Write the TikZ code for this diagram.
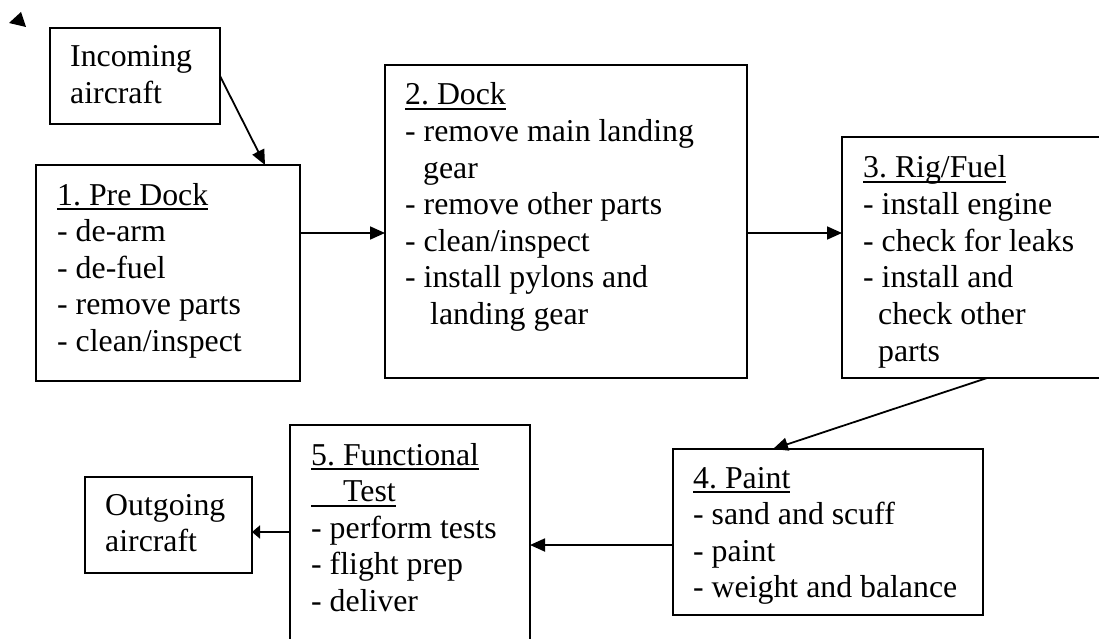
\documentclass[tikz,border=0pt]{standalone}
\usepackage{fontspec}
\setmainfont{Liberation Serif}
\usetikzlibrary{arrows.meta,calc}
\newsavebox\ulinbox
\newcommand\ulin[1]{\leavevmode\sbox\ulinbox{#1}\rlap{\rule[-5.2pt]{\wd\ulinbox}{1.8pt}}\usebox\ulinbox}
\begin{document}
\begin{tikzpicture}[x=1pt,y=-1pt,
  box/.style={draw, line width=1.8pt, rectangle, anchor=north west, inner sep=0pt, outer sep=0pt},
  txt/.style={anchor=base west, inner sep=0pt, text width=420pt, align=flush left, font=\fontsize{31.8}{36.6}\selectfont\frenchspacing},
  conn/.style={line width=1.8pt, -{Triangle[length=15pt,width=13pt]}},
  connsmall/.style={line width=1.8pt, -{Triangle[length=8pt,width=13pt]}}]
\clip (0,0) rectangle (1099,639);
\fill[white] (0,0) rectangle (1099,639);
% boxes
\node[box, minimum width=170pt, minimum height=96pt] (inc) at (50,28) {};
\node[box, minimum width=264pt, minimum height=216pt] (pre) at (36,165) {};
\node[box, minimum width=362pt, minimum height=313pt] (dock) at (385,65) {};
\node[box, minimum width=265pt, minimum height=241pt] (rig) at (842,137) {};
\node[box, minimum width=310pt, minimum height=166pt] (paint) at (673,449) {};
\node[box, minimum width=240pt, minimum height=230pt] (func) at (290,425) {};
\node[box, minimum width=167pt, minimum height=96pt] (out) at (85,477) {};
% texts
\node[txt] (tinc) at ($(inc.north west)+(20,39)$) {Incoming\\aircraft};
\node[txt] (tpre) at ($(pre.north west)+(21,40)$) {\ulin{1. Pre Dock}\\- de-arm\\- de-fuel\\- remove parts\\- clean/inspect};
\node[txt] (tdock) at ($(dock.north west)+(20,40)$) {\ulin{2. Dock}\\- remove main landing\\\hspace*{18pt}gear\\- remove other parts\\- clean/inspect\\- install pylons and\\\hspace*{25pt}landing gear};
\node[txt] (trig) at ($(rig.north west)+(21,41)$) {\ulin{3. Rig/Fuel}\\- install engine\\- check for leaks\\- install and\\\hspace*{15pt}check other\\\hspace*{15pt}parts};
\node[txt] (tpaint) at ($(paint.north west)+(20,39)$) {\ulin{4. Paint}\\- sand and scuff\\- paint\\- weight and balance};
\node[txt] (tfunc) at ($(func.north west)+(21,40)$) {\ulin{5. Functional}\\\ulin{\hspace*{32pt}Test}\\- perform tests\\- flight prep\\- deliver};
\node[txt] (tout) at ($(out.north west)+(20,38)$) {Outgoing\\aircraft};
% stray arrowhead at top left
\fill (21,12) -- (9,23) -- (26,27) -- cycle;
% connectors
\draw[conn] (inc.east) -- ($(pre.north west)+(229,0)$);
\coordinate (c12) at ($(pre.north east)+(0,68)$);
\draw[conn] (c12) -- (c12 -| dock.west);
\coordinate (c23) at ($(dock.north east)+(0,168)$);
\draw[conn] (c23) -- (c23 -| rig.west);
\draw[conn] ($(rig.south west)+(145,0)$) -- ($(paint.north west)+(100,0)$);
\coordinate (c45) at ($(paint.north west)+(0,96)$);
\draw[conn] (c45) -- (c45 -| func.east);
\coordinate (c5o) at ($(func.north west)+(0,107)$);
\draw[connsmall] (c5o) -- (c5o -| out.east);
\end{tikzpicture}
\end{document}
